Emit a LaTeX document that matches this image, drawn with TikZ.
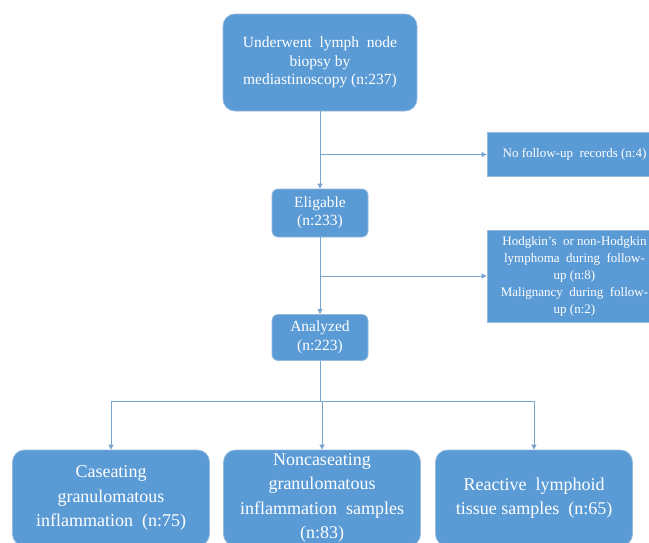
\documentclass[tikz,border=0pt]{standalone}
\usepackage{fontspec}
\setmainfont{Liberation Serif}
\usetikzlibrary{arrows.meta, positioning}

\definecolor{boxblue}{RGB}{91,155,213}
\definecolor{edgeblue}{RGB}{150,185,220}
\definecolor{lineblue}{RGB}{120,165,205}

\tikzset{
  bigbox/.style={draw=edgeblue, fill=boxblue, text=white, rounded corners=12pt, align=center, line width=0.8pt, inner sep=2pt},
  midbox/.style={draw=edgeblue, fill=boxblue, text=white, rounded corners=6pt, align=center, line width=0.8pt, inner sep=2pt},
  sidebox/.style={draw=edgeblue, fill=boxblue, text=white, align=center, line width=0.8pt, inner sep=2pt},
  flow/.style={draw=lineblue, line width=0.9pt, -{Triangle[length=5pt, width=5pt]}},
  link/.style={draw=lineblue, line width=0.9pt}
}

\begin{document}
\begin{tikzpicture}[x=1pt, y=-1pt]

  \clip (0,0) rectangle (649,542);
  \useasboundingbox (0,0) rectangle (649,542);

  % main column
  \node[bigbox, minimum width=194pt, minimum height=97pt, font=\fontsize{15.5}{18.5}\selectfont] (biopsy) at (320,62.5)
    {Underwent\ \ lymph\ \ node\\biopsy by\\mediastinoscopy (n:237)};
  \node[midbox, minimum width=96pt, minimum height=48pt, font=\fontsize{15.5}{18.5}\selectfont] (elig) at (320,213)
    {Eligable\\(n:233)};
  \node[midbox, minimum width=96pt, minimum height=46pt, font=\fontsize{15.5}{18.5}\selectfont] (anal) at (320,337.5)
    {Analyzed\\(n:223)};

  % excluded (right side)
  \node[sidebox, minimum width=175pt, minimum height=44pt, font=\fontsize{13}{17}\selectfont] (nofu) at (574.5,154.5)
    {No follow-up\ \ records (n:4)};
  \node[sidebox, minimum width=175pt, minimum height=92pt, font=\fontsize{13}{17}\selectfont] (malig) at (574.5,276)
    {Hodgkin's\ \ or non-Hodgkin\\lymphoma\ \ during\ \ follow-\\up (n:8)\\Malignancy\ \ during\ \ follow-\\up (n:2)};

  % groups
  \node[bigbox, minimum width=197pt, minimum height=96pt, font=\fontsize{18}{24.5}\selectfont] (case) at (111,498)
    {Caseating\\granulomatous\\inflammation\ \ (n:75)};
  \node[bigbox, minimum width=197pt, minimum height=96pt, font=\fontsize{18}{24.5}\selectfont] (noncase) at (322,498)
    {Noncaseating\\granulomatous\\inflammation\ \ samples\\(n:83)};
  \node[bigbox, minimum width=197pt, minimum height=96pt, font=\fontsize{18}{24.5}\selectfont] (react) at (534,498)
    {Reactive\ \ lymphoid\\tissue samples\ \ (n:65)};

  \coordinate (split) at (320,401);

  % connectors
  \draw[flow] (biopsy) -- (elig);
  \draw[flow] (biopsy.south |- nofu.west) -- (nofu.west);
  \draw[flow] (elig) -- (anal);
  \draw[flow] (elig.south |- malig.west) -- (malig.west);
  \draw[link] (anal.south) -- (split);
  \draw[flow] (split) -| (case.north);
  \draw[flow] (split) -| (react.north);
  \draw[flow] (split) -- (split -| noncase.north) -- (noncase.north);

\end{tikzpicture}
\end{document}
